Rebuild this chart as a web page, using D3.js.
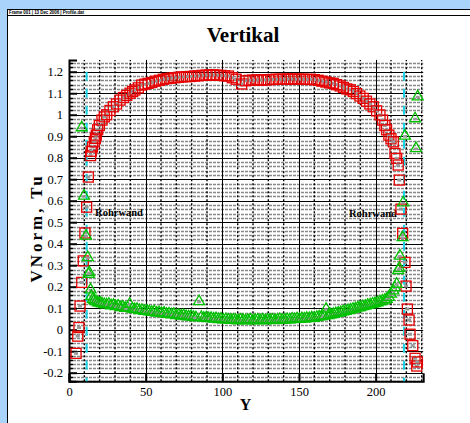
<!DOCTYPE html>
<html>
<head>
<meta charset="utf-8">
<script src="https://cdn.jsdelivr.net/npm/d3@7"></script>
<style>
  html, body { margin: 0; padding: 0; background: #a9d3fb; }
  svg { display: block; }
</style>
</head>
<body>
<div id="chart"></div>
<script>
// axis ticks
var xTicks = [0, 50, 100, 150, 200];
var yTicks = [-0.2, -0.1, 0, 0.1, 0.2, 0.3, 0.4, 0.5, 0.6, 0.7, 0.8, 0.9, 1, 1.1, 1.2];

// pipe wall positions (cyan dashed lines)
var wallX = [11.5, 218.5];
var wallText = ['Rohrwand', 'Rohrwand'];
var wallTextX = [17, 182.6];
var wallTextY = [0.53, 0.526];

// VNorm (red squares), [Y, value]
var vnorm = [
  [4.6,-0.11],[5.7,-0.03],[6.5,0.01],[7.2,0.11],[8.3,0.22],[9.3,0.32],[10.4,0.45],[11.5,0.57],[12.6,0.71],
  [14.1,0.81],[14.5,0.83],[15.3,0.85],[16.5,0.874],[17.2,0.89],[17.8,0.905],[18.7,0.93],[19.8,0.95],
  [21.5,0.975],[23,0.99],[24.6,1.0],[26.7,1.02],[28.9,1.037],[31,1.05],[33.3,1.068],[35.5,1.08],
  [37.7,1.09],[39.8,1.1],[41.5,1.108],[43,1.115],[45.2,1.125],[47.4,1.138],[49.5,1.142],[51.6,1.146],
  [54,1.15],[56.5,1.156],[59,1.16],[61.5,1.165],[64,1.168],[66.5,1.17],[69,1.172],[71.5,1.174],
  [74,1.176],[76.7,1.177],[79.2,1.178],[81.8,1.18],[84.3,1.181],[86.8,1.183],[89.3,1.184],[91.7,1.185],
  [94.1,1.185],[96.5,1.184],[99,1.183],[101.5,1.181],[104,1.18],[106.5,1.172],[109,1.165],[112.6,1.143],
  [115,1.158],[117.5,1.16],[120,1.161],[122.5,1.162],[125,1.161],[127.5,1.162],[130,1.163],[132.5,1.164],
  [135,1.165],[137.5,1.165],[140,1.165],[142.5,1.166],[145,1.166],[147.5,1.165],[150,1.166],[152.5,1.165],
  [155,1.164],[157.5,1.165],[160,1.163],[162.5,1.16],[165,1.156],[167.5,1.152],[170,1.148],[172.3,1.146],
  [174.5,1.14],[176.8,1.134],[179,1.127],[181.2,1.12],[183.4,1.116],[185.4,1.108],[187.5,1.098],
  [189.7,1.087],[191.9,1.076],[194,1.063],[196.2,1.05],[198.4,1.037],[200.6,1.018],[202.8,0.999],
  [204.5,0.975],[206,0.95],[207.1,0.93],[208.6,0.905],[210,0.888],[211.5,0.874],[212.6,0.82],
  [213.7,0.797],[214.7,0.766],[215.4,0.696],[216.5,0.561],[217.6,0.448],[219.1,0.313],[219.8,0.203],
  [220.7,0.096],[221.8,0.045],[222.4,-0.021],[224.2,-0.074],[225.7,-0.133],[226.8,-0.169],[227.2,-0.15]
];

// Tu (green triangles), [Y, value]
var tu = [
  [8.3,0.944],[9.8,0.626],[11.1,0.44],[12.2,0.34],[12.8,0.262],[13.2,0.27],[14.1,0.19],[14.6,0.16],
  [15.6,0.146],[16.5,0.14],[17.6,0.135],[18.9,0.13],[20.2,0.128],[21.5,0.125],[23,0.122],[24.5,0.12],
  [26,0.123],[27.5,0.116],[29,0.118],[30.5,0.112],[32,0.115],[33.5,0.108],[35,0.11],[36.6,0.104],
  [38.2,0.106],[39.6,0.123],[41.2,0.1],[42.8,0.098],[44.4,0.1],[46,0.094],[47.6,0.095],[49.2,0.09],
  [50.8,0.092],[52.4,0.088],[54,0.086],[55.6,0.088],[57.2,0.082],[58.8,0.084],[60.4,0.08],[62,0.082],
  [63.6,0.076],[65.2,0.078],[66.8,0.074],[68.4,0.076],[70,0.07],[71.6,0.072],[73.2,0.068],[74.8,0.07],
  [76.4,0.066],[78,0.064],[79.6,0.066],[81.2,0.062],[82.8,0.06],[84.8,0.135],[86.3,0.062],[87.9,0.058],
  [89.5,0.06],[91.1,0.056],[92.7,0.058],[94.3,0.054],[95.9,0.056],[97.5,0.052],[99.1,0.054],[100.7,0.05],
  [102.3,0.052],[103.9,0.05],[105.5,0.048],[107.1,0.05],[108.7,0.048],[110.3,0.046],[111.9,0.05],
  [113.5,0.048],[115.1,0.046],[116.7,0.048],[118.3,0.05],[119.9,0.046],[121.5,0.048],[123.1,0.05],
  [124.7,0.047],[126.3,0.049],[127.9,0.046],[129.5,0.05],[131.1,0.048],[132.7,0.05],[134.3,0.047],
  [135.9,0.05],[137.5,0.052],[139.1,0.048],[140.7,0.05],[142.3,0.052],[143.9,0.05],[145.5,0.054],
  [147.1,0.052],[148.7,0.055],[150.3,0.053],[151.9,0.056],[153.5,0.054],[155.1,0.058],[156.7,0.056],
  [158.3,0.06],[159.9,0.058],[161.6,0.062],[163.2,0.064],[164.8,0.066],[166.4,0.068],[167.7,0.1],
  [169.2,0.07],[170.8,0.074],[172.4,0.076],[174,0.08],[175.6,0.082],[177.2,0.084],[178.8,0.088],
  [180.4,0.09],[182,0.094],[183.6,0.096],[185.2,0.1],[186.8,0.102],[188.4,0.106],[190,0.108],
  [191.6,0.112],[193.2,0.114],[194.8,0.118],[196.4,0.12],[198,0.124],[199.6,0.126],[201.2,0.13],
  [202.8,0.134],[204.4,0.138],[206,0.142],[207.2,0.146],[208.6,0.155],[210,0.17],[211.5,0.185],
  [212.5,0.2],[213.7,0.216],[214.7,0.28],[215.4,0.29],[215.8,0.347],[217.6,0.433],[218,0.595],
  [219.1,0.905],[225.7,0.986],[226.3,0.847],[227.4,1.088]
];

var W = 470, H = 423;
var serif = '"Liberation Serif", "Times New Roman", serif';

var x = d3.scaleLinear().domain([0, 231]).range([69, 423.2]);
var y = d3.scaleLinear().domain([-0.24, 1.255]).range([381.3, 59.9]);

var svg = d3.select('#chart').append('svg')
  .attr('width', W)
  .attr('height', H);

// white frame with header strip
svg.append('rect')
  .attr('x', 7.5).attr('y', 9.5)
  .attr('width', W).attr('height', H)
  .attr('fill', '#fff')
  .attr('stroke', '#000');
svg.append('line')
  .attr('x1', 7.5).attr('x2', W)
  .attr('y1', 15.5).attr('y2', 15.5)
  .attr('stroke', '#000');
svg.append('text')
  .attr('x', 9).attr('y', 14.3)
  .attr('textLength', 75)
  .style('font-family', 'Arial, sans-serif')
  .style('font-size', '4.5px')
  .style('font-weight', 'bold')
  .text('Frame 001 | 13 Dec 2006 | Profile.dat');

// title
svg.append('text')
  .attr('x', 243).attr('y', 42)
  .style('text-anchor', 'middle')
  .style('font-family', serif)
  .style('font-size', '21px')
  .style('font-weight', 'bold')
  .text('Vertikal');

var grid = svg.append('g');
var xMinor = d3.range(0, 231, 10).filter(d => d % 50 != 0);
var yMinor = d3.range(-12, 63).map(d => d * 0.02).filter(d => Math.abs(d * 10 - Math.round(d * 10)) > 0.01);

// minor grid, dotted
grid.selectAll('.hminor')
  .data(yMinor)
  .enter().append('line')
  .attr('x1', x(0)).attr('x2', x(231))
  .attr('y1', d => Math.round(y(d)) + 0.5).attr('y2', d => Math.round(y(d)) + 0.5)
  .attr('stroke', '#888')
  .attr('stroke-width', 1.6)
  .attr('stroke-dasharray', '3,1');

grid.selectAll('.vminor')
  .data(xMinor)
  .enter().append('line')
  .attr('x1', d => x(d)).attr('x2', d => x(d))
  .attr('y1', y(-0.24)).attr('y2', y(1.255))
  .attr('stroke', '#000')
  .attr('stroke-width', 1.4)
  .attr('stroke-dasharray', '2,2');

// major grid, solid
grid.selectAll('.hmajor')
  .data(yTicks)
  .enter().append('line')
  .attr('x1', x(0)).attr('x2', x(231))
  .attr('y1', d => Math.round(y(d)) + 0.5).attr('y2', d => Math.round(y(d)) + 0.5)
  .attr('stroke', '#000');

grid.selectAll('.vmajor')
  .data(xTicks.filter(d => d > 0))
  .enter().append('line')
  .attr('x1', d => Math.round(x(d)) + 0.5).attr('x2', d => Math.round(x(d)) + 0.5)
  .attr('y1', y(-0.24)).attr('y2', y(1.255))
  .attr('stroke', '#000');

// axes
var yAxis = d3.axisLeft(y)
  .tickValues(yTicks)
  .tickSize(-8)
  .tickPadding(14)
  .tickFormat(d => String(+d.toFixed(1)));

var xAxis = d3.axisBottom(x)
  .tickValues(xTicks)
  .tickSize(-8)
  .tickPadding(14)
  .tickFormat(d3.format('d'));

var gy = svg.append('g')
  .attr('transform', 'translate(' + x(0) + ',0)')
  .call(yAxis);
var gx = svg.append('g')
  .attr('transform', 'translate(0,' + y(-0.24) + ')')
  .call(xAxis);

[gx, gy].forEach(function(g) {
  g.select('.domain').attr('stroke-width', 2);
  g.selectAll('.tick line').attr('stroke-width', 2);
  g.selectAll('text')
    .style('font-family', serif)
    .style('font-size', '12.5px')
    .attr('fill', '#000');
});
gy.selectAll('text').attr('x', -6);
gx.selectAll('text').attr('y', 6).attr('dy', '0.71em');

// minor ticks on the left axis
svg.append('g').selectAll('line')
  .data(yMinor)
  .enter().append('line')
  .attr('x1', x(0)).attr('x2', x(0) + 4)
  .attr('y1', d => Math.round(y(d)) + 0.5).attr('y2', d => Math.round(y(d)) + 0.5)
  .attr('stroke', '#000')
  .attr('stroke-width', 1.5);

// axis titles
svg.append('text')
  .attr('transform', 'translate(41.5,228) rotate(-90)')
  .style('text-anchor', 'middle')
  .style('font-family', serif)
  .style('font-size', '17px')
  .style('font-weight', 'bold')
  .style('letter-spacing', '3px')
  .text('VNorm, Tu');

svg.append('text')
  .attr('x', 245.5).attr('y', 410)
  .style('text-anchor', 'middle')
  .style('font-family', serif)
  .style('font-size', '16px')
  .style('font-weight', 'bold')
  .text('Y');

// pipe walls
svg.append('g').selectAll('line')
  .data(wallX)
  .enter().append('line')
  .attr('x1', d => x(d)).attr('x2', d => x(d))
  .attr('y1', y(1.2)).attr('y2', y(-0.24))
  .attr('stroke', '#19d3e6')
  .attr('stroke-width', 2)
  .attr('stroke-dasharray', '9,8');

svg.append('g').selectAll('text')
  .data(wallText)
  .enter().append('text')
  .attr('x', (d, i) => x(wallTextX[i]))
  .attr('y', (d, i) => y(wallTextY[i]))
  .style('font-family', serif)
  .style('font-size', '10.5px')
  .style('font-weight', 'bold')
  .text(d => d);

// VNorm squares, with the little grey point label inside like the original
var sq = svg.append('g').selectAll('g')
  .data(vnorm)
  .enter().append('g')
  .attr('transform', d => 'translate(' + x(d[0]) + ',' + y(d[1]) + ')');
sq.append('rect')
  .attr('x', -2).attr('y', -1.5)
  .attr('width', 4).attr('height', 3)
  .attr('fill', '#999');
sq.append('rect')
  .attr('x', -5).attr('y', -5)
  .attr('width', 10).attr('height', 10)
  .attr('fill', 'none')
  .attr('stroke', '#e60000')
  .attr('stroke-width', 1.3);

// Tu triangles
var tri = svg.append('g').selectAll('g')
  .data(tu)
  .enter().append('g')
  .attr('transform', d => 'translate(' + x(d[0]) + ',' + y(d[1]) + ')');
tri.append('rect')
  .attr('x', -2).attr('y', 0)
  .attr('width', 4).attr('height', 2.5)
  .attr('fill', '#999');
tri.append('path')
  .attr('d', 'M0,-5.5L5.5,4L-5.5,4Z')
  .attr('fill', 'none')
  .attr('stroke', '#00c000')
  .attr('stroke-width', 1.3);
</script>
</body>
</html>
